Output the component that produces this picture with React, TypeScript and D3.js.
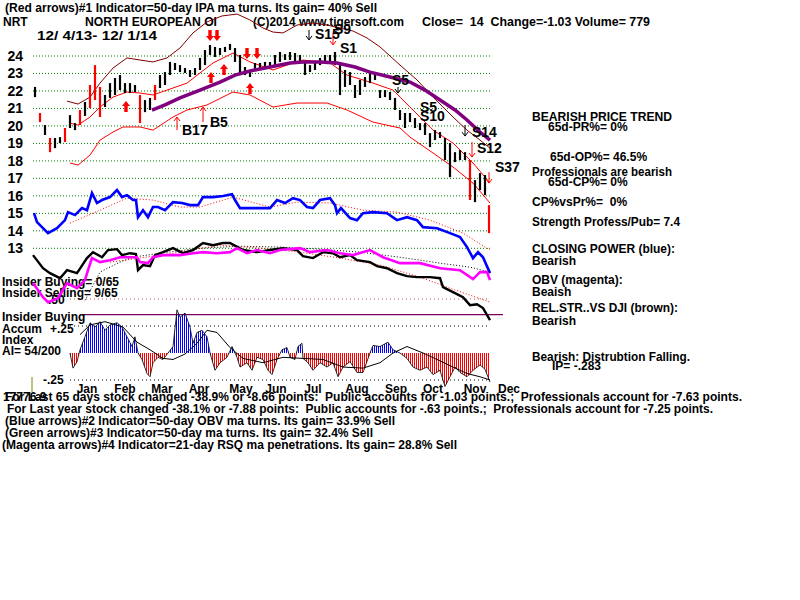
import React from 'react';
import * as d3 from 'd3';

// ---------- DATA ----------
// bar positions in trading-period index units (0..90.8)
const barIdx: number[] = [...d3.range(91), 90.8];
const priceHigh = [22.23,20.74,20.05,19.31,19.31,19.36,19.88,20.62,20.16,20.91,
21.37,22.34,23.48,22.23,21.77,22.45,22.74,22.91,22.45,22.45,
22.34,21.77,21.48,21.60,22.34,22.91,23.08,23.66,23.60,23.48,
23.31,23.20,23.31,23.89,24.34,24.63,24.52,24.46,24.52,24.69,
24.46,24.06,23.37,23.20,23.60,23.60,23.66,23.66,24.06,24.23,
24.11,24.23,24.17,24.06,23.66,23.48,23.66,23.89,24.06,24.06,
24.23,23.48,23.20,23.08,22.34,22.63,22.80,23.03,23.03,22.05,
22.05,21.94,21.60,20.91,20.74,20.74,20.45,20.16,20.16,19.59,
19.76,19.65,19.31,19.02,18.50,18.62,18.50,18.05,16.90,17.30,
17.19,15.47];
const priceLow = [21.65,20.22,19.48,18.50,18.73,19.02,19.08,19.88,19.76,20.05,
20.57,21.02,21.48,20.51,21.08,21.60,21.77,22.05,21.88,21.88,
21.94,20.16,20.79,20.91,21.48,22.17,22.34,22.91,23.20,23.08,
23.03,22.80,22.91,23.20,23.48,24.06,23.94,24.06,24.23,24.34,
23.66,22.91,22.91,22.80,23.20,23.20,23.31,23.31,23.48,23.66,
23.77,23.77,23.66,23.66,22.91,23.08,23.20,23.48,23.66,23.60,
23.48,21.77,22.23,22.34,21.60,21.77,22.23,22.45,22.63,21.60,
21.65,21.48,20.91,20.34,19.88,20.22,19.88,19.76,19.48,18.79,
19.19,19.31,18.05,17.07,17.93,18.05,18.05,15.76,15.64,16.33,
16.04,13.87];
const redBars = [1,3,6,9,11,12,13,21,24,87,91];

const outerBand = [[6.4,21.42],[8.6,21.25],[11,21.65],[13,22.45],[15.6,23.31],[18.4,23.89],[21,23.77],[23.6,23.66],[26.4,23.89],[29,24.46],[31.6,25.32],[34.4,25.95],[37.4,26.29],[40.4,26.40],[43,26.06],[45.6,25.60],[47.6,25.37],[49.6,25.32],[52.4,25.77],[55.6,25.89],[58.4,25.77],[61,25.60],[63.6,25.43],[66.4,25.03],[69,24.52],[73,23.48],[76.4,22.63],[79.6,21.65],[83.6,20.51],[86.4,19.76],[89,19.19],[91,18.73]];
const upperBand = [[7,20.16],[8.6,20.05],[11,20.51],[13,21.08],[15.6,21.65],[18.4,21.94],[21,21.88],[23.6,21.77],[26.4,22.05],[30.4,22.45],[33,23.03],[35.6,23.60],[39.6,24.17],[43,23.66],[47.6,23.20],[51,23.54],[53.6,23.77],[59,23.60],[62.4,22.91],[67.6,22.45],[71.6,22.05],[75.6,20.91],[79.6,19.76],[83.6,19.02],[87.6,17.88],[91,16.73]];
const lowerBand = [[7,17.88],[8.6,17.76],[11,18.33],[13,19.19],[15.6,19.65],[17.6,19.94],[21,19.94],[23.6,19.76],[27.6,20.51],[30.4,20.91],[34.4,21.20],[39.6,21.94],[43,21.77],[47.6,21.08],[52.4,21.31],[58.4,21.31],[62.4,20.91],[67.6,20.22],[73,19.88],[75,19.36],[79.6,18.45],[83.6,17.65],[87.6,16.73],[91,15.59]];
const ma50 = [[23.4,20.91],[26,21.20],[29,21.60],[33,22.05],[37,22.51],[40,22.91],[43,23.14],[47,23.37],[51,23.60],[53.6,23.66],[57,23.66],[60.4,23.60],[64,23.37],[67,23.08],[71,22.80],[75,22.51],[78,22.05],[81,21.48],[84,20.91],[86.4,20.34],[89,19.65],[91,19.19]];

const closingPower = [[-0.2,15.01],[0.4,14.50],[2.6,13.87],[4.4,14.15],[6,14.61],[6.6,15.07],[8,14.90],[9.4,15.30],[10.4,15.18],[11.4,16.16],[12.4,15.59],[13.4,15.76],[15,15.93],[16.4,16.33],[17.4,15.93],[18.4,16.04],[19.6,15.76],[20.2,15.76],[20.6,14.78],[21.6,15.18],[22.6,14.78],[23.6,15.36],[24.6,15.36],[26,15.18],[27.6,15.64],[29.4,15.59],[31,15.47],[32.6,15.47],[33.6,15.93],[35.6,15.93],[37.6,15.99],[39.4,16.10],[40,15.76],[41,15.30],[43.6,15.30],[44.4,15.30],[47,15.30],[48.4,15.76],[50,15.59],[51.6,15.87],[53,15.76],[54.4,15.36],[55.6,15.30],[57,15.76],[59,15.87],[60,15.47],[60.4,15.01],[61.2,15.30],[63,14.73],[64.4,14.61],[65.6,15.01],[67.6,15.07],[70.4,15.01],[72.4,14.61],[74.4,14.78],[76.4,14.61],[77.6,14.21],[80.4,14.15],[83,13.87],[85,13.64],[86.4,13.07],[87.6,12.44],[88.6,12.78],[89.6,12.49],[91,11.58]];
const closingPowerMA = [[7,14.44],[13,15.18],[18.4,15.87],[23.6,15.76],[29,15.36],[33,15.36],[39.6,15.93],[47,15.36],[52.4,15.64],[59,15.59],[65.6,15.18],[72.4,15.07],[79,14.61],[85.6,13.87],[91,12.90]];

const relStrength = [[-0.4,12.61],[1.6,11.86],[3,11.58],[5,11.29],[6.4,11.75],[8.4,11.58],[10.4,12.44],[11.6,12.78],[13.4,12.49],[14.6,12.90],[16.4,12.95],[17.4,12.61],[19,12.72],[20.2,12.67],[20.6,11.75],[21.6,12.04],[23,11.98],[24,12.61],[25.6,12.78],[27.6,13.01],[29.6,12.72],[31.6,12.90],[33.6,13.30],[35.6,13.18],[37.6,13.30],[39,13.30],[41.6,12.90],[44.4,12.78],[47,12.90],[49.6,13.01],[52.4,12.90],[53.6,12.55],[55.6,12.44],[57.6,12.78],[59.6,12.72],[61,12.49],[63,12.61],[64.4,12.32],[67,12.21],[68.4,11.98],[70.4,11.86],[72.4,11.58],[74.4,11.41],[76.4,11.35],[79,11.35],[81,11.29],[81.6,10.78],[83.6,10.49],[85.6,10.20],[87,9.75],[88.4,9.80],[89.6,9.58],[91,8.89]];
const relStrengthMA = [[15,12.21],[21,12.44],[29,12.78],[37,13.18],[45,13.01],[53,12.78],[61,12.44],[69,12.04],[77,11.35],[83,10.72],[87,10.32],[91,9.92]];
const obv = [[-0.4,11.01],[1.6,10.20],[2.6,9.92],[4.6,10.15],[6.4,11.01],[8.4,10.72],[10,11.18],[10.6,11.75],[11.4,12.44],[13,12.21],[15,12.32],[17,12.49],[20.4,12.49],[21,12.21],[22.6,12.15],[23.6,12.49],[25.6,12.61],[29,12.61],[31.6,12.72],[33.6,12.78],[36.4,12.72],[39,12.78],[40.4,13.01],[42.4,12.72],[44.4,12.90],[47,12.72],[49,12.90],[53,13.01],[55,12.78],[58.4,12.90],[61,12.72],[63.6,12.61],[67,12.90],[69.6,12.49],[73,12.15],[77,12.15],[81,11.86],[85,11.75],[87.6,11.24],[89,11.64],[90.4,11.64],[91,11.18]];
const obvMA = [[10,10.03],[13,11.64],[17,12.21],[19.6,12.49],[25,12.72],[33,13.01],[41,13.12],[49,13.07],[57,12.95],[65,12.78],[73,12.49],[81,12.15],[87,11.92],[91,11.64]];

const accumIndex = [[7,0],[7.6,-0.14],[8.4,-0.08],[9,0.03],[10,0.15],[11,0.28],[12,0.24],[13,0.29],[14,0.21],[15,0.26],[16.4,0.28],[17.4,0.24],[18.4,0.15],[19.4,0.06],[20,0.15],[20.6,0],[21.4,-0.06],[22.4,-0.19],[23,-0.22],[23.6,-0.09],[24.6,-0.04],[25.6,-0.06],[26.6,0],[27.6,0.06],[28.4,0.40],[29,0.33],[30,0.37],[31,0.24],[31.6,0.09],[32.4,0.19],[33.4,0.21],[34.4,0.15],[35,0],[36,-0.16],[37,-0.09],[38.4,-0.04],[39.4,0.06],[40.4,-0.04],[41,-0.13],[42.4,-0.09],[43.4,-0.16],[44.4,-0.04],[45.6,-0.06],[46.6,-0.16],[47.4,-0.20],[48.4,-0.06],[49.4,0.03],[50.4,0.05],[51,-0.04],[52,-0.06],[52.6,0.06],[53.4,0.09],[53.6,-0.05],[54.6,-0.09],[55.6,-0.16],[57,-0.09],[58.4,-0.13],[59.6,-0.09],[60.6,-0.22],[61.6,-0.13],[63,-0.08],[64.4,-0.18],[65.6,-0.18],[67,0],[67.6,0.07],[69,0.06],[70.6,0.10],[71.6,0.03],[73,0],[74.4,-0.05],[75.6,-0.13],[77,-0.16],[78.4,-0.13],[79.6,-0.20],[81,-0.16],[82,-0.31],[83,-0.22],[84,-0.13],[85,-0.18],[86.4,-0.22],[87.6,-0.16],[89,-0.11],[90,-0.15],[91,-0.27]];
const accumIndexMA = [[9,0.17],[11,0.26],[14,0.29],[17.6,0.24],[20.4,0.10],[23,0.03],[25.6,-0.05],[27.6,-0.06],[30,-0.01],[32.4,0.09],[34.4,0.21],[36.4,0.19],[39,0.05],[41.6,-0.05],[45.6,-0.09],[49.6,-0.04],[53.6,-0.05],[57.6,-0.06],[61.6,-0.13],[65.6,-0.14],[69,-0.09],[71.6,0],[74.4,0.06],[77.6,0],[80.4,-0.06],[83.6,-0.13],[86.4,-0.19],[89,-0.22],[91,-0.25]];

const priceTicks = [13,14,15,16,17,18,19,20,21,22,23,24];
const aiTicks = [-0.25, 0.25, 0.5];
const monthLabels = ["Jan","Feb","Mar","Apr","May","Jun","Jul","Aug","Sep","Oct","Nov","Dec"];
const monthPos = [10.4,18,25.4,32.8,41.2,48.2,55.6,64.4,72.2,79.6,88,94.8];

// signal arrows: [idx, base price]
const bigUpArrows = [[18.2,20.79],[35.2,22.45],[37.8,22.91],[43,21.83]];
const bigDownArrows = [[35,25.49],[36.4,25.49],[42.4,24.46],[44.4,24.46]];
// thin arrows: [idx, from price, to price, red?]
const thinArrows = [[28.4,19.76,20.51,1],[33.6,20.22,21.08,1],[54.8,25.49,24.92,0],[59.6,25.32,24.63,1],[72.6,22.23,21.88,0],[86,20.05,19.42,0],[87.4,19.08,18.22,1],[90.8,17.36,16.73,1]];
const signalLabels: [string, number, number][] = [["B17",29.4,19.48],["B5",35,19.94],["S15",56,24.97],["S9",59.8,25.26],["S1",61,24.17],["S5",71.4,22.34],["S5",77,20.79],["S10",77,20.28],["S14",87.4,19.36],["S12",88.4,18.45],["S37",92,17.36]];

const FONT = "'Liberation Sans', Arial, Helvetica, sans-serif";

function T(props: { x: number; y: number; len?: number; size?: number; anchor?: string; children?: any }) {
  const { x, y, len, size = 12, anchor = 'start' } = props;
  return (
    <text x={x} y={y} fontSize={size} fontWeight="bold" fontFamily={FONT} fill="#000" textAnchor={anchor}
      style={{ whiteSpace: 'pre' }}
      {...(len ? { textLength: len, lengthAdjust: 'spacingAndGlyphs' } : {})}>
      {props.children}
    </text>
  );
}

export default function App() {
  React.useEffect(() => { document.body.style.margin = '0'; }, []);
  const x = d3.scaleLinear().domain([0, 90.8]).range([35, 489]);
  const y = d3.scaleLinear().domain([13, 24]).range([248.3, 56]);
  const ai = d3.scaleLinear().domain([-0.25, 0.5]).range([380, 299]);
  const line = d3.line<number[]>().x(d => x(d[0])).y(d => y(d[1]));
  const aiLine = d3.line<number[]>().x(d => x(d[0])).y(d => ai(d[1]));
  const aiArea = d3.area<number[]>().x(d => x(d[0])).y0(ai(0)).y1(d => ai(d[1]));
  const z = ai(0);

  const bigArrow = (cx: number, yBase: number, up: boolean, key: string) => {
    const h = 11, hw = 4, hh = 5, sw = 1.7;
    const s = up ? -1 : 1;
    const tip = yBase + s * h;
    const neck = tip - s * hh;
    const pts = [[cx - sw, yBase], [cx + sw, yBase], [cx + sw, neck], [cx + hw, neck], [cx, tip], [cx - hw, neck], [cx - sw, neck]];
    return <polygon key={key} points={pts.map(p => p.join(',')).join(' ')} fill="#ff0000" />;
  };
  const thinArrow = (a: number[], key: string) => {
    const cx = x(a[0]), y1 = y(a[1]), y2 = y(a[2]);
    const col = a[3] ? '#ff0000' : '#000';
    const d = y2 > y1 ? -1 : 1;
    return (
      <g key={key} stroke={col} strokeWidth={1} fill="none">
        <line x1={cx} y1={y1} x2={cx} y2={y2} />
        <polyline points={`${cx - 3},${y2 + d * 4} ${cx},${y2} ${cx + 3},${y2 + d * 4}`} />
      </g>
    );
  };

  return (
    <div style={{ position: 'absolute', left: 0, top: 0 }}>
      <svg width={800} height={600} style={{ display: 'block', background: '#fff' }}>
        <defs>
          <pattern id="blueStripe" patternUnits="userSpaceOnUse" width={2} height={10}>
            <rect x={0} y={0} width={1} height={10} fill="#0000ff" />
          </pattern>
          <pattern id="redStripe" patternUnits="userSpaceOnUse" width={2} height={10}>
            <rect x={0} y={0} width={1} height={10} fill="#ff0000" />
          </pattern>
          <clipPath id="clipPos"><rect x={0} y={0} width={800} height={z} /></clipPath>
          <clipPath id="clipNeg"><rect x={0} y={z} width={800} height={100} /></clipPath>
        </defs>

        {/* Header */}
        <T x={5} y={12} len={372}>(Red arrows)#1 Indicator=50-day IPA ma turns. Its gain= 40% Sell</T>
        <T x={3} y={26}>NRT</T>
        <T x={85} y={26} len={132}>NORTH EUROPEAN OI</T>
        <T x={253} y={26} len={151}>(C)2014 www.tigersoft.com</T>
        <T x={422} y={26} len={228}>Close=  14  Change=-1.03 Volume= 779</T>
        <T x={37} y={40} len={120}>12/ 4/13- 12/ 1/14</T>

        {/* price grid */}
        {priceTicks.map(t => (
          <g key={'g' + t}>
            <line x1={33} x2={490} y1={y(t)} y2={y(t)} stroke="#008000" strokeWidth={1} strokeDasharray="1,2" />
            <T x={23} y={y(t) + 5} size={14} anchor="end">{String(t)}</T>
          </g>
        ))}

        {/* AI reference lines */}
        {aiTicks.map(t => (
          <line key={'a' + t} x1={70} x2={490} y1={ai(t)} y2={ai(t)} stroke={t === 0.5 ? '#b05050' : '#000'} strokeWidth={1} strokeDasharray="1,3" />
        ))}
        <line x1={82} x2={503} y1={ai(0.355)} y2={ai(0.355)} stroke="#800060" strokeWidth={1.3} />
        <line x1={32} x2={32} y1={377} y2={392} stroke="#808000" strokeWidth={1} />

        {/* left labels lower panel */}
        <T x={2} y={286}>Insider Buying= 0/65</T>
        <T x={2} y={297}>Insider Selling= 9/65</T>
        <T x={48} y={304}>.50</T>
        <T x={2} y={321}>Insider Buying</T>
        <T x={2} y={333}>Accum</T>
        <T x={50} y={333}>+.25</T>
        <T x={2} y={344}>Index</T>
        <T x={2} y={355}>AI= 54/200</T>
        <T x={43} y={384}>-.25</T>

        {/* bands */}
        <path d={line(outerBand as any) || ''} fill="none" stroke="#800000" strokeWidth={1} />
        <path d={line(upperBand as any) || ''} fill="none" stroke="#ff0000" strokeWidth={1} />
        <path d={line(lowerBand as any) || ''} fill="none" stroke="#ff0000" strokeWidth={1} />

        {/* price bars */}
        {barIdx.map((b, i) => (
          <line key={'b' + i} x1={x(b)} x2={x(b)} y1={y(priceHigh[i])} y2={y(priceLow[i])}
            stroke={redBars.includes(i) ? '#ff0000' : '#000'} strokeWidth={2.2} />
        ))}

        <path d={line(ma50 as any) || ''} fill="none" stroke="#800080" strokeWidth={3.5} />

        {/* signals */}
        {bigUpArrows.map((a, i) => bigArrow(x(a[0]), y(a[1]), true, 'bu' + i))}
        {bigDownArrows.map((a, i) => bigArrow(x(a[0]), y(a[1]), false, 'bd' + i))}
        {thinArrows.map((a, i) => thinArrow(a, 'ta' + i))}
        {signalLabels.map((s, i) => (
          <T key={'sl' + i} x={x(s[1])} y={y(s[2])} size={14}>{s[0]}</T>
        ))}

        {/* closing power */}
        <path d={line(closingPowerMA as any) || ''} fill="none" stroke="#ff0000" strokeWidth={1} strokeDasharray="1,2" />
        <path d={line(closingPower as any) || ''} fill="none" stroke="#0000ff" strokeWidth={2.6} />

        {/* rel strength / OBV */}
        <path d={line(obvMA as any) || ''} fill="none" stroke="#000" strokeWidth={1} strokeDasharray="1,2" />
        <path d={line(relStrengthMA as any) || ''} fill="none" stroke="#ff0000" strokeWidth={1} strokeDasharray="1,2" />
        <path d={line(relStrength as any) || ''} fill="none" stroke="#000" strokeWidth={2.4} />
        <path d={line(obv as any) || ''} fill="none" stroke="#ff00ff" strokeWidth={2.6} />

        {/* accumulation index */}
        <path d={aiArea(accumIndex as any) || ''} fill="url(#blueStripe)" clipPath="url(#clipPos)" />
        <path d={aiArea(accumIndex as any) || ''} fill="url(#redStripe)" clipPath="url(#clipNeg)" />
        <path d={aiLine(accumIndex as any) || ''} fill="none" stroke="#000" strokeWidth={0.8} />
        <path d={aiLine(accumIndexMA as any) || ''} fill="none" stroke="#000" strokeWidth={1} />

        {/* months */}
        {monthLabels.map((m, i) => (
          <text key={m} x={x(monthPos[i])} y={393} fontSize={12} fontWeight="bold" fontFamily={FONT} textAnchor="middle">{m}</text>
        ))}

        {/* right side commentary */}
        <T x={532} y={121} len={140}>BEARISH PRICE TREND</T>
        <T x={548} y={131}>65d-PR%= 0%</T>
        <T x={550} y={161}>65d-OP%= 46.5%</T>
        <T x={532} y={176} len={140}>Professionals are bearish</T>
        <T x={548} y={186}>65d-CP%= 0%</T>
        <T x={532} y={206}>CP%vsPr%=  0%</T>
        <T x={532} y={226} len={148}>Strength Profess/Pub= 7.4</T>
        <T x={532} y={253} len={143}>CLOSING POWER (blue):</T>
        <T x={532} y={265}>Bearish</T>
        <T x={532} y={284}>OBV (magenta):</T>
        <T x={532} y={296}>Beaish</T>
        <T x={532} y={312} len={146}>REL.STR..VS DJI (brown):</T>
        <T x={532} y={325}>Bearish</T>
        <T x={532} y={361} len={158}>Bearish: Distrubtion Falling.</T>
        <T x={552} y={370}>IP= -.283</T>

        {/* bottom text */}
        <T x={3} y={401}>17776.9</T>
        <T x={5} y={401} len={737}>For Last 65 days stock changed -38.9% or -8.66 points:  Public accounts for -1.03 points.;  Professionals account for -7.63 points.</T>
        <T x={7} y={413} len={706}>For Last year stock changed -38.1% or -7.88 points:  Public accounts for -.63 points.;  Professionals account for -7.25 points.</T>
        <T x={5} y={425} len={390}>(Blue arrows)#2 Indicator=50-day OBV ma turns. Its gain= 33.9% Sell</T>
        <T x={5} y={437} len={368}>(Green arrows)#3 Indicator=50-day ma turns. Its gain= 32.4% Sell</T>
        <T x={2} y={449} len={455}>(Magenta arrows)#4 Indicator=21-day RSQ ma penetrations. Its gain= 28.8% Sell</T>
      </svg>
    </div>
  );
}
